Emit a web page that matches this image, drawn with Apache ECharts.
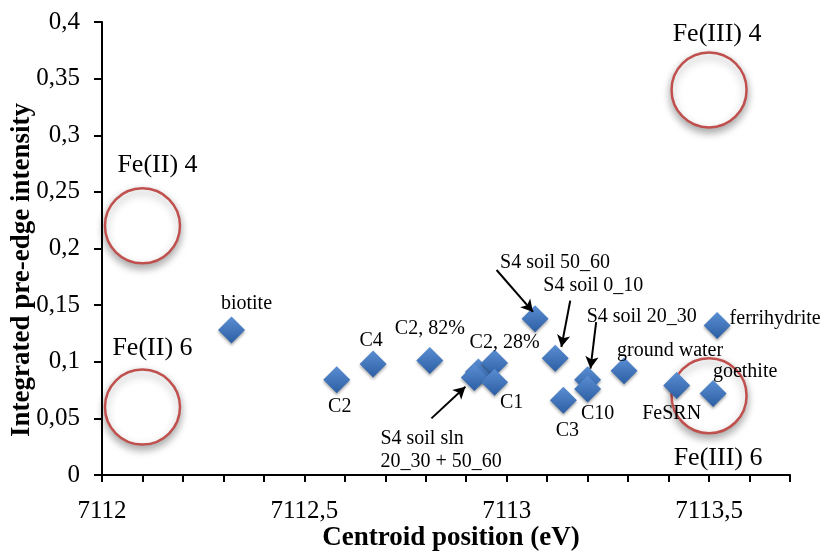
<!DOCTYPE html>
<html>
<head>
<meta charset="utf-8">
<script src="https://cdn.jsdelivr.net/npm/echarts@6/dist/echarts.min.js"></script>
<style>
  html, body { margin: 0; padding: 0; background: #fff; }
  #chart { width: 826px; height: 559px; }
</style>
</head>
<body>
<div id="chart"></div>
<script>
// samples: centroid position (eV) and integrated pre-edge intensity
var names = ["biotite", "C2", "C4", "C2, 82%", "S4 soil sln 50_60", "S4 soil sln 20_30", "C2, 28%", "C1",
  "S4 soil 50_60", "S4 soil 0_10", "C3", "S4 soil 20_30", "C10", "ground water", "FeSRN", "goethite", "ferrihydrite"];
var centroid = [7112.32, 7112.58, 7112.67, 7112.81, 7112.93, 7112.92, 7112.97, 7112.97,
  7113.07, 7113.12, 7113.14, 7113.20, 7113.20, 7113.29, 7113.42, 7113.51, 7113.52];
var intensity = [0.128, 0.084, 0.098, 0.101, 0.091, 0.086, 0.099, 0.082,
  0.138, 0.103, 0.066, 0.084, 0.076, 0.092, 0.079, 0.072, 0.132];
var labelText = ["biotite", "C2", "C4", "C2, 82%", "S4 soil sln\n20_30 + 50_60", "", "C2, 28%", "C1",
  "S4 soil 50_60", "S4 soil 0_10", "C3", "S4 soil 20_30", "C10", "ground water", "FeSRN", "goethite", "ferrihydrite"];

// Fe reference regions
var refNames = ["Fe(II) 4", "Fe(II) 6", "Fe(III) 4", "Fe(III) 6"];
var refCentroid = [7112.1, 7112.1, 7113.5, 7113.5];
var refIntensity = [0.22, 0.06, 0.34, 0.07];

// arrows (from label to point), in data units
var arrowFrom = [[7112.975, 0.181], [7113.157, 0.154], [7113.221, 0.135], [7112.814, 0.050]];
var arrowTo = [[7113.065, 0.144], [7113.135, 0.113], [7113.207, 0.094], [7112.898, 0.078]];

// label placement (pixels from the marker centre)
var labelOffset = [[15, -26], [3, 27], [-2, -23], [0, -32], [-98, 78], [0, 0], [10, -20], [17, 21],
  [20, -56], [38, -73], [4, 30], [54, -63], [10, 25], [46, -20], [-5, 28], [32, -22], [58, -7]];
var refLabelOffset = [[15, -61], [10, -59], [8, -56], [9, 62]];

var serif = '"Liberation Serif", "Times New Roman", serif';

var chart = echarts.init(document.getElementById("chart"));

var sampleData = names.map(function (n, i) {
  return {
    name: n,
    value: [centroid[i], intensity[i]],
    label: {
      show: labelText[i] !== "",
      formatter: labelText[i],
      offset: labelOffset[i],
      align: labelText[i].indexOf("\n") >= 0 ? "left" : "center"
    }
  };
});

var refData = refNames.map(function (n, i) {
  return {
    name: n,
    value: [refCentroid[i], refIntensity[i]],
    label: { offset: refLabelOffset[i] }
  };
});

chart.setOption({
  animation: false,
  grid: { left: 102, right: 36, top: 22, bottom: 84 },
  xAxis: {
    type: "value",
    min: 7112,
    max: 7113.7,
    interval: 0.1,
    axisLine: { lineStyle: { color: "#000", width: 2 } },
    axisTick: { length: 7, lineStyle: { color: "#000", width: 2 } },
    splitLine: { show: false },
    axisLabel: {
      margin: 24,
      color: "#000",
      fontFamily: serif,
      fontSize: 25,
      formatter: function (v) {
        var r = Math.round(v * 10) / 10;
        if (Math.abs(r * 2 - Math.round(r * 2)) > 1e-9) return "";
        return String(r).replace(".", ",");
      }
    }
  },
  yAxis: {
    type: "value",
    min: 0,
    max: 0.4,
    interval: 0.05,
    axisLine: { lineStyle: { color: "#000", width: 2 } },
    axisTick: { length: 8, lineStyle: { color: "#000", width: 2 } },
    splitLine: { show: false },
    axisLabel: {
      margin: 22,
      color: "#000",
      fontFamily: serif,
      fontSize: 25,
      formatter: function (v) {
        return String(Math.round(v * 100) / 100).replace(".", ",");
      }
    }
  },
  graphic: [
    {
      type: "text", x: 451, y: 538,
      style: {
        text: "Centroid position (eV)", font: "bold 27px " + serif, fill: "#000",
        align: "center", verticalAlign: "middle", textAlign: "center", textVerticalAlign: "middle"
      }
    },
    {
      type: "text", x: 22, y: 270, rotation: Math.PI / 2,
      style: {
        text: "Integrated pre-edge intensity", font: "bold 27px " + serif, fill: "#000",
        align: "center", verticalAlign: "middle", textAlign: "center", textVerticalAlign: "middle"
      }
    }
  ],
  series: [
    {
      name: "Fe references",
      type: "scatter",
      z: 1,
      symbol: "circle",
      symbolSize: 75,
      itemStyle: {
        opacity: 1,
        color: "#fff",
        borderColor: "#c0504d",
        borderWidth: 2.5,
        shadowBlur: 8,
        shadowOffsetY: 4,
        shadowColor: "rgba(0,0,0,0.35)"
      },
      label: {
        show: true,
        position: "inside",
        formatter: "{b}",
        color: "#000",
        fontFamily: serif,
        fontSize: 26
      },
      data: refData
    },
    {
      name: "samples",
      type: "scatter",
      z: 3,
      symbol: "diamond",
      symbolSize: [27, 27],
      itemStyle: {
        opacity: 1,
        color: {
          type: "linear", x: 0, y: 0, x2: 0, y2: 1,
          colorStops: [{ offset: 0, color: "#5a8ed3" }, { offset: 1, color: "#2c5ea3" }]
        },
        shadowBlur: 3,
        shadowOffsetY: 2,
        shadowColor: "rgba(0,0,0,0.35)"
      },
      label: {
        position: "inside",
        color: "#000",
        fontFamily: serif,
        fontSize: 20,
        lineHeight: 23
      },
      markLine: {
        silent: true,
        symbol: ["none", "arrow"],
        symbolSize: [10, 12],
        lineStyle: { color: "#000", width: 2, type: "solid" },
        label: { show: false },
        data: arrowFrom.map(function (f, i) {
          return [{ coord: f }, { coord: arrowTo[i] }];
        })
      },
      data: sampleData
    }
  ]
});
</script>
</body>
</html>
